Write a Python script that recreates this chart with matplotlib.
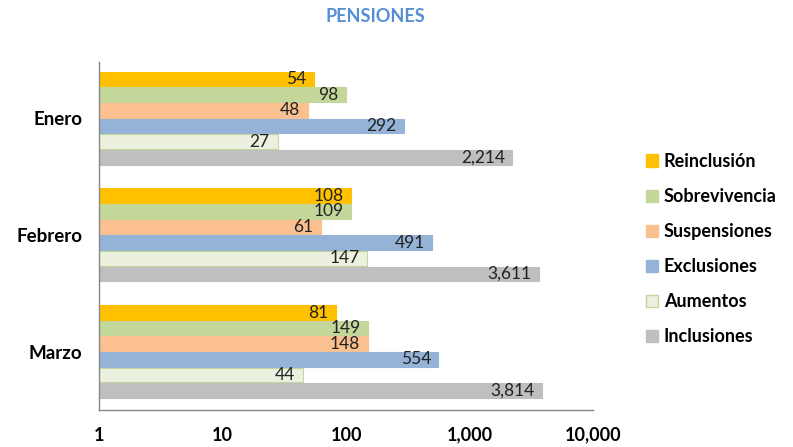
import matplotlib.pyplot as plt
import numpy as np
from matplotlib.ticker import FixedLocator, FuncFormatter
from matplotlib.patches import Patch

plt.rcParams['font.family'] = ['Lato', 'DejaVu Sans']

meses = ['Enero', 'Febrero', 'Marzo']
series = ['Reinclusión', 'Sobrevivencia', 'Suspensiones', 'Exclusiones', 'Aumentos', 'Inclusiones']
reinclusion = [54, 108, 81]
sobrevivencia = [98, 109, 149]
suspensiones = [48, 61, 148]
exclusiones = [292, 491, 554]
aumentos = [27, 147, 44]
inclusiones = [2214, 3611, 3814]
valores = [reinclusion, sobrevivencia, suspensiones, exclusiones, aumentos, inclusiones]

colores = ['#FFC000', '#C4D79B', '#FAC090', '#95B3D7', '#EBF1DE', '#BFBFBF']
bordes = ['#FFC000', '#C4D79B', '#FAC090', '#95B3D7', '#C4D79B', '#BFBFBF']

fig = plt.figure(figsize=(7.93, 4.47), dpi=100)
ax = fig.add_axes([0.1248, 0.0828, 0.6235, 0.7782])

alto = 0.134
y = np.arange(len(meses))
for i, (nombre, vals) in enumerate(zip(series, valores)):
    pos = y - 2.5 * alto + i * alto
    ax.barh(pos, vals, height=alto - 0.008, left=1, color=colores[i],
            edgecolor=bordes[i], linewidth=0.8, label=nombre)
    for p, v in zip(pos, vals):
        ax.annotate(f'{v:,}', xy=(v, p), xytext=(-5, 0), textcoords='offset points',
                    ha='right', va='center', fontsize=12.5, color='#222222')

ax.set_xscale('log')
ax.set_xlim(1, 10000)
ax.set_ylim(2.5, -0.48)
ax.xaxis.set_major_locator(FixedLocator([1, 10, 100, 1000, 10000]))
ax.xaxis.set_major_formatter(FuncFormatter(lambda v, _: f'{int(round(v)):,}'))
ax.xaxis.set_minor_locator(FixedLocator([]))
ax.set_yticks(y)
ax.set_yticklabels(meses, fontweight='bold', fontsize=13.5)
for lab in ax.get_xticklabels():
    lab.set_fontweight('bold')
    lab.set_fontsize(13)
ax.tick_params(axis='x', length=0, pad=12)
ax.tick_params(axis='y', length=0, pad=12)
for s in ['top', 'right']:
    ax.spines[s].set_visible(False)
for s in ['left', 'bottom']:
    ax.spines[s].set_color('#888888')
    ax.spines[s].set_linewidth(1)

handles = [Patch(facecolor=colores[i], edgecolor=bordes[i], label=series[i]) for i in range(len(series))]
leg = fig.legend(handles=handles, loc='center left', bbox_to_anchor=(0.794, 0.443),
                 frameon=False, handlelength=0.65, handleheight=0.65, handletextpad=0.35,
                 labelspacing=1.0, prop={'weight': 'bold', 'size': 13})

fig.text(0.473, 0.962, 'PENSIONES', ha='center', va='center', fontsize=13,
         fontweight='bold', color='#558ED5')

plt.savefig('out.png', dpi=100)
